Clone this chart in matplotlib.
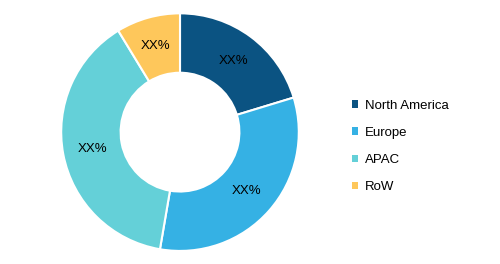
import matplotlib
matplotlib.use('Agg')
import matplotlib.pyplot as plt
from matplotlib.patches import Patch

plt.rcParams['font.family'] = ['Liberation Sans', 'DejaVu Sans']

regions = ['North America', 'Europe', 'APAC', 'RoW']
shares = [20.3, 32.4, 38.6, 8.7]
colors = ['#0b5382', '#35b1e4', '#64d0d8', '#fec75b']

fig = plt.figure(figsize=(5, 2.64), dpi=100)
ax = fig.add_axes([0.12, 0.045, 0.48, 0.909])
wedges, texts, autotexts = ax.pie(
    shares, colors=colors, startangle=90, counterclock=False,
    wedgeprops=dict(width=0.5, edgecolor='white', linewidth=1.5),
    autopct=lambda p: 'XX%', pctdistance=0.75,
    textprops=dict(fontsize=9.5, color='black'))
ax.set_aspect('equal')
ax.set_xlim(-1.01, 1.01); ax.set_ylim(-1.01, 1.01)

handles = [Patch(facecolor=c, edgecolor='none') for c in colors]
fig.legend(handles, regions, loc='center left', bbox_to_anchor=(0.68, 0.445),
           frameon=False, fontsize=9.5, handlelength=0.5, handleheight=0.5,
           handletextpad=0.5, labelspacing=1.15)

fig.savefig('out.png', dpi=100)
